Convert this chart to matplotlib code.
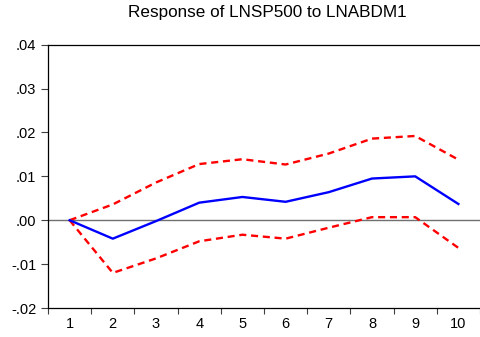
import matplotlib
matplotlib.use("Agg")
import matplotlib.pyplot as plt
from matplotlib.ticker import FuncFormatter, FixedLocator, NullFormatter

periods = [1, 2, 3, 4, 5, 6, 7, 8, 9, 10]
response = [0.0, -0.0042, -0.0002, 0.0040, 0.0053, 0.0042, 0.0064, 0.0095, 0.0100, 0.0037]
upper = [0.0, 0.0036, 0.0086, 0.0128, 0.0139, 0.0127, 0.0152, 0.0186, 0.0192, 0.0138]
lower = [0.0, -0.0120, -0.0087, -0.0048, -0.0033, -0.0042, -0.0017, 0.0007, 0.0007, -0.0063]
yticks = [-0.02, -0.01, 0.0, 0.01, 0.02, 0.03, 0.04]

plt.rcParams['font.family'] = ['Liberation Sans', 'DejaVu Sans']

fig = plt.figure(figsize=(4.8, 3.37), dpi=100)
ax = fig.add_axes([48 / 480, 1 - 308 / 337, 432 / 480, (308 - 44.7) / 337])

ax.axhline(0, color='#707070', linewidth=1.0, zorder=1)
ax.plot(periods, upper, color='#ff0000', linewidth=1.7, linestyle=(0, (3, 2)), zorder=2)
ax.plot(periods, lower, color='#ff0000', linewidth=1.7, linestyle=(0, (3, 2)), zorder=2)
ax.plot(periods, response, color='#0000ff', linewidth=1.7, zorder=3)

ax.set_xlim(0.5, 10.5)
ax.set_ylim(-0.02, 0.04)
ax.set_yticks(yticks)

def fmt(v, pos):
    s = f"{v:.2f}"
    return s.replace("0.", ".", 1)

ax.yaxis.set_major_formatter(FuncFormatter(fmt))
ax.xaxis.set_major_locator(FixedLocator([p - 0.5 for p in periods] + [10.5]))
ax.xaxis.set_major_formatter(NullFormatter())
ax.set_xticks(periods, [str(p) for p in periods], minor=True)
ax.tick_params(axis='x', which='major', direction='out', length=4.5, width=0.8, color='#404040')
ax.tick_params(axis='x', which='minor', length=0, labelsize=10.5, pad=6.5)
ax.tick_params(axis='y', direction='out', length=5, width=0.8, labelsize=10.5, pad=3.4, color='#404040')

ax.spines['right'].set_visible(False)
for s in ['left', 'bottom', 'top']:
    ax.spines[s].set_linewidth(0.9)

fig.text(267 / 480, 1 - 17 / 337, "Response of LNSP500 to LNABDM1", ha='center', va='baseline', fontsize=12.3)

fig.savefig("out.png", dpi=100)
